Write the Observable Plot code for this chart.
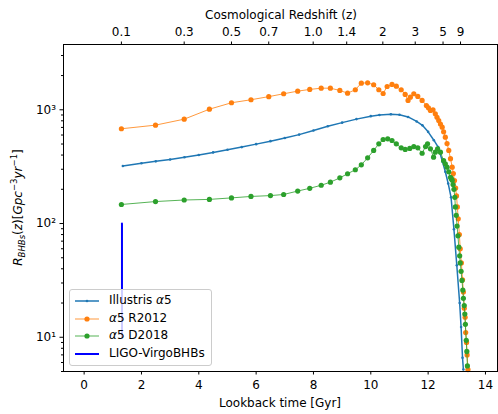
<!DOCTYPE html>
<html>
<head>
<meta charset="utf-8">
<script src="https://cdn.jsdelivr.net/npm/d3@7"></script>
<script src="https://cdn.jsdelivr.net/npm/@observablehq/plot@0.6"></script>
<style>
  body { margin: 0; background: #fff; }
  #wrap { position: relative; width: 498px; height: 414px; font-family: "DejaVu Sans", sans-serif; }
  #legend { position: absolute; left: 69px; top: 289px; width: 143px; height: 77px;
    border: 1px solid #cccccc; border-radius: 3px; background: rgba(255,255,255,0.8);
    box-sizing: border-box; font-size: 12px; color: #000; }
  .row { position: absolute; left: 0; height: 18px; width: 100%; }
  .row svg { position: absolute; left: 4px; top: 0; }
  .row span { position: absolute; left: 39px; top: 1px; white-space: nowrap; }
</style>
</head>
<body>
<div id="wrap"></div>
<script>
// ---------- data ----------
const illT = [1.35, 2.0, 2.5, 3.0, 3.5, 4.0, 4.5, 5.0, 5.5, 6.0, 6.5, 7.0, 7.5, 8.0, 8.5, 9.0, 9.5, 10.0, 10.3, 10.7, 11.0, 11.3, 11.6, 11.8, 12.0, 12.2, 12.35, 12.5, 12.6, 12.7, 12.8, 12.9, 13.0, 13.1, 13.15, 13.2, 13.23];
const illV = [320, 339, 352, 366, 383, 401, 422, 445, 470, 499, 530, 565, 605, 658, 716, 771, 828, 879, 900, 915, 905, 865, 790, 730, 640, 540, 470, 350, 285, 225, 170, 89, 43, 20, 12.3, 6.6, 5.2];

const r12T = [1.30, 2.49, 3.49, 4.37, 5.14, 5.82, 6.44, 6.96, 7.45, 7.87, 8.27, 8.59, 8.92, 9.19, 9.46, 9.67, 9.89, 10.10, 10.28, 10.43, 10.57, 10.74, 10.89, 11.06, 11.20, 11.30, 11.38, 11.50, 11.64, 11.79, 11.94, 12.01, 12.08, 12.17, 12.25, 12.31, 12.37, 12.43, 12.49, 12.54, 12.60, 12.66, 12.72, 12.78, 12.84, 12.88, 12.92, 12.96, 12.99, 13.02, 13.05, 13.09, 13.12, 13.16, 13.20, 13.23, 13.26, 13.29, 13.31, 13.34, 13.36, 13.39];
const r12V = [681, 733, 827, 1012, 1153, 1225, 1305, 1383, 1459, 1510, 1549, 1549, 1479, 1400, 1500, 1715, 1727, 1660, 1500, 1390, 1603, 1670, 1614, 1500, 1364, 1208, 1291, 1383, 1310, 1208, 1091, 1040, 986, 1000, 922, 860, 805, 750, 703, 640, 574, 505, 439, 372, 313, 275, 239, 205, 175, 140, 110, 80, 60, 45, 32, 25, 18, 15, 11, 9, 7, 5.2];

const d18T = [1.30, 2.49, 3.49, 4.37, 5.14, 5.82, 6.50, 6.96, 7.45, 7.87, 8.27, 8.59, 8.92, 9.19, 9.46, 9.67, 9.89, 10.10, 10.28, 10.43, 10.59, 10.74, 10.89, 11.06, 11.20, 11.36, 11.50, 11.64, 11.79, 11.91, 11.98, 12.08, 12.19, 12.25, 12.33, 12.43, 12.54, 12.60, 12.66, 12.72, 12.78, 12.81, 12.84, 12.87, 12.90, 12.93, 12.95, 12.98, 13.01, 13.04, 13.07, 13.10, 13.12, 13.15, 13.18, 13.21, 13.23, 13.26, 13.28, 13.30, 13.33, 13.35, 13.37];
const d18V = [147, 156, 161, 163, 168, 173, 176, 180, 193, 204, 217, 231, 252, 274, 297, 328, 378, 439, 502, 548, 556, 537, 502, 463, 448, 457, 475, 463, 415, 475, 502, 454, 383, 424, 454, 424, 358, 335, 313, 285, 255, 248, 240, 220, 200, 170, 140, 118, 95, 78, 62, 52, 45, 38, 31.6, 26, 22, 19, 16, 13, 9.4, 7.5, 5.6];

const ligoT = [1.32, 1.32];
const ligoV = [10, 100];

const xTicks = [0, 2, 4, 6, 8, 10, 12, 14];
const zLabels = ["0.1", "0.3", "0.5", "0.7", "1.0", "1.4", "2", "3", "5", "9"];
const zTickT = [1.30, 3.49, 5.14, 6.44, 7.99, 9.16, 10.42, 11.55, 12.52, 13.13];
const yMajor = [10, 100, 1000];
const yMajorLabels = ["10\u00B9", "10\u00B2", "10\u00B3"];
const yMinor = [5, 6, 7, 8, 9, 20, 30, 40, 50, 60, 70, 80, 90, 200, 300, 400, 500, 600, 700, 800, 900, 2000, 3000];

// ---------- build tables ----------
const ill = illT.map((t, i) => ({t, v: illV[i]}));
const r12 = r12T.map((t, i) => ({t, v: r12V[i]}));
const d18 = d18T.map((t, i) => ({t, v: d18V[i]}));
const ligo = ligoT.map((t, i) => ({t, v: ligoV[i]}));
const zMap = new Map(zTickT.map((t, i) => [t, zLabels[i]]));
const yMap = new Map(yMajor.map((v, i) => [v, yMajorLabels[i]]));

const C1 = "#1f77b4", C2 = "#ff7f0e", C3 = "#2ca02c";

const chart = Plot.plot({
  width: 498, height: 414,
  marginLeft: 63, marginRight: 1, marginTop: 44, marginBottom: 43,
  style: {fontFamily: "DejaVu Sans, sans-serif", fontSize: "12px", background: "white", color: "black"},
  x: {domain: [-0.72, 14.42]},
  y: {type: "log", domain: [5, 3750]},
  marks: [
    Plot.line(ill, {x: "t", y: "v", stroke: C1, strokeWidth: 1.5}),
    Plot.dot(ill, {x: "t", y: "v", r: 1.3, fill: C1}),
    Plot.line(r12, {x: "t", y: "v", stroke: C2, strokeWidth: 1, strokeOpacity: 0.8}),
    Plot.dot(r12, {x: "t", y: "v", r: 2.6, fill: C2}),
    Plot.line(d18, {x: "t", y: "v", stroke: C3, strokeWidth: 1, strokeOpacity: 0.8}),
    Plot.dot(d18, {x: "t", y: "v", r: 2.6, fill: C3}),
    Plot.line(ligo, {x: "t", y: "v", stroke: "blue", strokeWidth: 2}),
    Plot.frame({stroke: "black", strokeWidth: 1}),
    Plot.axisX({ticks: xTicks, tickSize: 3.5, tickPadding: 5, tickFormat: d => String(d), label: null}),
    Plot.axisX({anchor: "top", ticks: zTickT, tickSize: 3.5, tickPadding: 5, tickFormat: d => zMap.get(d), label: null}),
    Plot.axisY({ticks: yMajor, tickSize: 3.5, tickPadding: 4, tickFormat: d => yMap.get(d), label: null}),
    Plot.axisY({ticks: yMinor, tickSize: 2, tickFormat: () => "", label: null})
  ]
});

const wrap = document.getElementById("wrap");
wrap.appendChild(chart);

// ---------- axis titles ----------
const svg = d3.select(chart);
svg.append("text").attr("x", 280).attr("y", 403).attr("text-anchor", "middle")
  .attr("dominant-baseline", "central").attr("font-size", 12).attr("fill", "black")
  .text("Lookback time [Gyr]");
svg.append("text").attr("x", 281).attr("y", 15).attr("text-anchor", "middle")
  .attr("dominant-baseline", "central").attr("font-size", 12).attr("fill", "black")
  .text("Cosmological Redshift (z)");

const yl = svg.append("text").attr("transform", "translate(22,207.5) rotate(-90)")
  .attr("text-anchor", "middle").attr("font-size", 12).attr("fill", "black");
const parts = [
  ["R", true, 0, 12], ["BHBs", true, 3, 8.5], ["(", false, -3, 12], ["z", true, 0, 12],
  [")[", false, 0, 12], ["Gpc", true, 0, 12], ["\u22123", false, -5, 8.5],
  ["yr", true, 5, 12], ["\u22121", false, -5, 8.5], ["]", false, 5, 12]
];
parts.forEach(([s, it, dy, fs]) => {
  yl.append("tspan").attr("dy", dy).attr("font-size", fs)
    .attr("font-style", it ? "italic" : "normal").text(s);
});

// ---------- legend ----------
const leg = document.createElement("div");
leg.id = "legend";
const items = [
  {label: "Illustris <i>\u03B1</i>5", color: C1, w: 1.5, r: 1.3},
  {label: "<i>\u03B1</i>5 R2012", color: C2, w: 1, r: 2.6, op: 0.8},
  {label: "<i>\u03B1</i>5 D2018", color: C3, w: 1, r: 2.6, op: 0.8},
  {label: "LIGO-VirgoBHBs", color: "blue", w: 2, r: 0}
];
items.forEach((it, i) => {
  const row = document.createElement("div");
  row.className = "row";
  row.style.top = (2 + i * 17.6) + "px";
  const dot = it.r ? `<circle cx="13" cy="9" r="${it.r}" fill="${it.color}"/>` : "";
  row.innerHTML = `<svg width="28" height="18"><line x1="1" x2="25" y1="9" y2="9" stroke="${it.color}" stroke-width="${it.w}" stroke-opacity="${it.op || 1}"/>${dot}</svg><span>${it.label}</span>`;
  leg.appendChild(row);
});
wrap.appendChild(leg);
</script>
</body>
</html>
